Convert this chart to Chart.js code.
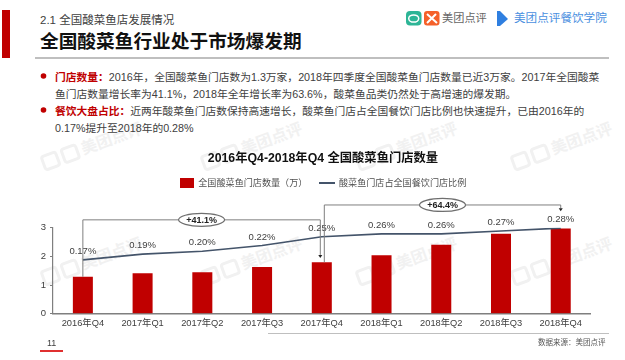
<!DOCTYPE html>
<html><head><meta charset="utf-8">
<script src="https://cdn.jsdelivr.net/npm/chart.js@4"></script>
<style>
html,body{margin:0;padding:0;background:#fff}
body{width:625px;height:360px;position:relative;overflow:hidden;font-family:"Liberation Sans","Noto Sans CJK SC",sans-serif;filter:blur(0.35px)}
.t{position:absolute;white-space:nowrap;line-height:1;color:#404040}
.b{position:absolute;background:#bfbfbf}
.w{position:absolute;white-space:nowrap;color:#f1f1f1;font-size:16px;font-weight:700;transform:rotate(-20deg);transform-origin:left bottom;line-height:1}
.w i{display:inline-block;width:18px;height:17px;border:3px solid #f1f1f1;border-radius:4px;margin-right:3px;box-sizing:border-box;vertical-align:-3px}
canvas{position:absolute;left:0;top:0}
b.r{color:#C00000}
</style></head><body>
<div id="wm"></div>
<div class="b" style="left:2px;top:10px;width:8px;height:48px;background:#C00000"></div>
<div class="t" style="left:40px;top:15px;font-size:11.5px">2.1 全国酸菜鱼店发展情况</div>
<div class="t" style="left:40px;top:33px;font-size:18.7px;font-weight:700;color:#111">全国酸菜鱼行业处于市场爆发期</div>
<div class="b" style="left:35px;top:56.5px;width:574px;height:2px"></div>
<svg style="position:absolute;left:405px;top:9px" width="105" height="18">
<rect x="1" y="2" width="15.5" height="14.5" rx="4" fill="#2db596"/><ellipse cx="8.7" cy="9.5" rx="5" ry="3.6" fill="none" stroke="#fff" stroke-width="1.5"/>
<rect x="19" y="2" width="15.5" height="14.5" rx="3" fill="#f5612a"/><path d="M22 5l10 9M31 5l-9 9" stroke="#fff" stroke-width="2"/>
<path d="M92 2l3 0 8 8-8 7-3 0z" fill="#2f7fe0"/></svg>
<div class="t" style="left:442px;top:13px;font-size:11.2px;color:#666">美团点评</div>
<div class="t" style="left:514px;top:12px;font-size:11.6px;color:#4a8fe0">美团点评餐饮学院</div>
<svg style="position:absolute;left:38px;top:70px" width="12" height="46"><circle cx="5.5" cy="6" r="2.8" fill="#C00000"/><circle cx="5.5" cy="40" r="2.8" fill="#C00000"/></svg>
<div class="t" style="left:55px;top:72px;font-size:10.75px"><b class="r">门店数量：</b>2016年，全国酸菜鱼门店数为1.3万家，2018年四季度全国酸菜鱼门店数量已近3万家。2017年全国酸菜</div>
<div class="t" style="left:55px;top:89px;font-size:10.75px">鱼门店数量增长率为41.1%，2018年全年增长率为63.6%，酸菜鱼品类仍然处于高增速的爆发期。</div>
<div class="t" style="left:55px;top:106px;font-size:10.75px"><b class="r">餐饮大盘占比：</b>近两年酸菜鱼门店数保持高速增长，酸菜鱼门店占全国餐饮门店比例也快速提升，已由2016年的</div>
<div class="t" style="left:55px;top:123px;font-size:10.75px">0.17%提升至2018年的0.28%</div>
<canvas id="c" width="625" height="360"></canvas>
<div class="b" style="left:268px;top:332.5px;width:341px;height:1.5px"></div>
<div class="t" style="left:47px;top:339px;font-size:9px">11</div>
<div class="b" style="left:40px;top:350px;width:23px;height:1.5px;background:#e03030"></div>
<div class="t" style="left:538px;top:339px;font-size:7.5px;color:#555">数据来源：美团点评</div>
<script>
const categories=["2016年Q4","2017年Q1","2017年Q2","2017年Q3","2017年Q4","2018年Q1","2018年Q2","2018年Q3","2018年Q4"];
const storeCounts=[1.29,1.41,1.45,1.63,1.8,2.04,2.41,2.79,2.98];
const storeShare=[0.17,0.19,0.20,0.22,0.25,0.26,0.26,0.27,0.28];
const yTicks=[0,1,2,3];
const barName="全国酸菜鱼门店数量（万）";
const lineName="酸菜鱼门店占全国餐饮门店比例";
const chartTitle="2016年Q4-2018年Q4 全国酸菜鱼门店数量";
const growthNotes=[{from:0,to:4,level:3.28,end:1.95,text:"+41.1%"},{from:4,to:8,level:3.8,end:3.58,text:"+64.4%"}];

const FONT='"Liberation Sans","Noto Sans CJK SC",sans-serif';
const RED='#C00000',NAVY='#44546A',TXT='#404040',GREY='#7f7f7f';

// watermarks
[[45,173],[205,173],[360,173],[515,173],[45,288],[205,288],[360,288],[515,288]].forEach(p=>{
  const d=document.createElement('div');d.className='w';d.style.left=p[0]+'px';d.style.top=(p[1]-18)+'px';
  d.innerHTML='<i></i><i></i>美团点评';document.getElementById('wm').appendChild(d);
});

function swatch(w,h,color){const c=document.createElement('canvas');c.width=w;c.height=h;const x=c.getContext('2d');x.fillStyle=color;x.fillRect(0,0,w,h);return c;}

const overlay={id:'overlay',afterDatasetsDraw(ch){
  const ctx=ch.ctx,xs=ch.scales.x,ys=ch.scales.y,meta=ch.getDatasetMeta(1);
  ctx.save();
  ctx.font='9.5px '+FONT;ctx.fillStyle=TXT;ctx.textAlign='center';ctx.textBaseline='middle';
  meta.data.forEach((p,i)=>ctx.fillText(storeShare[i].toFixed(2)+'%',p.x,p.y-8.5));
  growthNotes.forEach((n,k)=>{
    const dx=k===0?-1.5:0,sx=k===1?2.5:0;
    const x0=xs.getPixelForValue(n.from)+sx,x1=xs.getPixelForValue(n.to)+dx;
    const yT=ys.getPixelForValue(n.level),yS=ys.getPixelForValue(storeCounts[n.from]),yE=ys.getPixelForValue(n.end);
    ctx.strokeStyle=GREY;ctx.lineWidth=1;
    ctx.beginPath();ctx.moveTo(x0,yS);ctx.lineTo(x0,yT);ctx.lineTo(x1,yT);ctx.lineTo(x1,yE-3);ctx.stroke();
    ctx.fillStyle='#222';ctx.beginPath();ctx.moveTo(x1-2,yE-3);ctx.lineTo(x1+2,yE-3);ctx.lineTo(x1,yE);ctx.closePath();ctx.fill();
    const cx=(x0+x1)/2;
    ctx.beginPath();ctx.ellipse(cx,yT,23,6.5,0,0,Math.PI*2);ctx.fillStyle='#fff';ctx.fill();ctx.strokeStyle='#6f6f6f';ctx.lineWidth=1.2;ctx.stroke();
    ctx.fillStyle='#222';ctx.font='bold 9px '+FONT;ctx.fillText(n.text,cx,yT+.5);
  });
  ctx.restore();
}};

new Chart(document.getElementById('c'),{
  data:{labels:categories,datasets:[
    {type:'bar',label:barName,data:storeCounts,backgroundColor:RED,yAxisID:'y',xAxisID:'x',barPercentage:1,categoryPercentage:0.335,order:2},
    {type:'line',label:lineName,data:storeShare,borderColor:NAVY,borderWidth:1.6,pointRadius:0,tension:0,fill:false,yAxisID:'y2',xAxisID:'x',order:1}
  ]},
  options:{responsive:false,animation:false,
    layout:{padding:{left:21,right:0,top:151,bottom:0}},
    plugins:{
      tooltip:{enabled:false},
      title:{display:true,text:chartTitle,color:'#111',font:{family:FONT,size:12.3,weight:'bold',lineHeight:1.2},padding:0},
      legend:{display:true,position:'top',labels:{color:'#505050',font:{family:FONT,size:9.1},padding:13,usePointStyle:true,pointStyleWidth:14,boxHeight:10,
        generateLabels(){return [
          {text:barName,pointStyle:swatch(14,10,RED),fontColor:'#505050',lineWidth:0,datasetIndex:0},
          {text:lineName,pointStyle:swatch(16,2,NAVY),fontColor:'#505050',lineWidth:0,datasetIndex:1}];}}}
    },
    scales:{
      x:{type:'category',position:'bottom',offset:true,grid:{display:false,drawTicks:false},border:{color:GREY,width:1.5},
        ticks:{color:TXT,font:{family:FONT,size:9.3},padding:4,maxRotation:0,autoSkip:false},
        afterFit(s){s.height=46.3;}},
      x2:{type:'category',labels:categories,position:'top',display:true,grid:{display:false,drawTicks:false},border:{display:false},ticks:{display:false},afterFit(s){s.height=30;}},
      y:{type:'linear',position:'left',min:0,max:3,
        afterBuildTicks(s){s.ticks=yTicks.map(v=>({value:v}));},
        grid:{drawOnChartArea:false,tickLength:3,tickColor:GREY},border:{color:GREY,width:1.2},
        ticks:{color:TXT,font:{family:FONT,size:9.5},padding:4},
        afterFit(s){s.width=32;}},
      y2:{type:'linear',position:'right',display:true,min:-0.0165,max:0.281,grid:{display:false},border:{display:false},ticks:{display:false},afterFit(s){s.width=34.4;}}
    }
  },
  plugins:[overlay]
});
</script>
</body></html>
